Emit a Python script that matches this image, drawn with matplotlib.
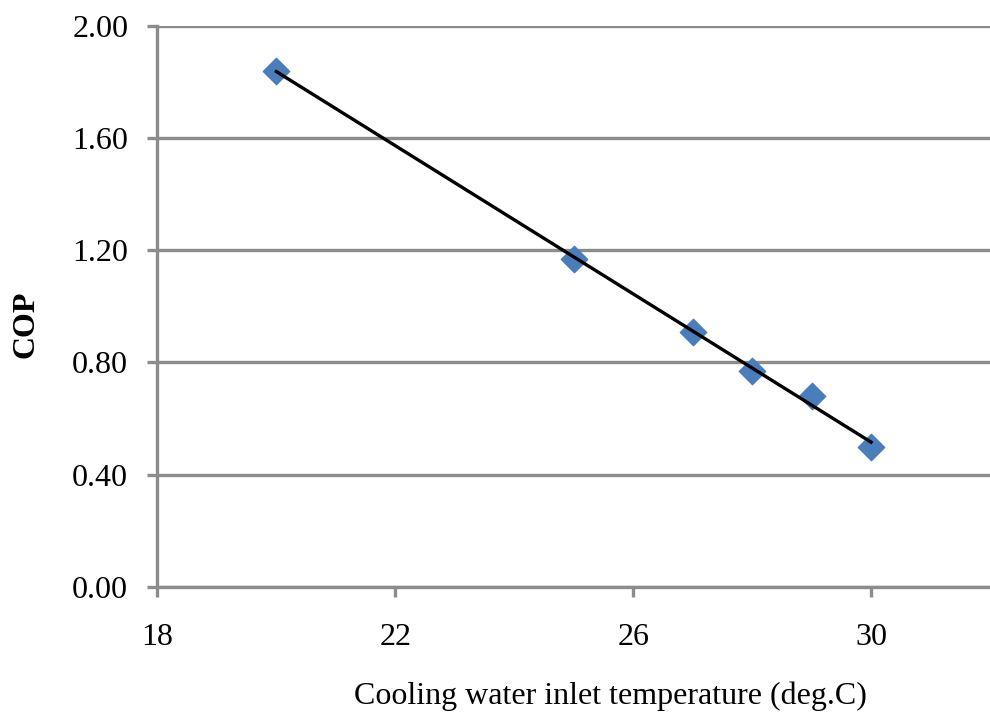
import numpy as np
import matplotlib
matplotlib.use("Agg")
import matplotlib.pyplot as plt

# cooling water inlet temperature (deg.C) vs COP
temp = [20, 25, 27, 28, 29, 30]
cop = [1.84, 1.17, 0.91, 0.77, 0.68, 0.50]
xticks = [18, 22, 26, 30]
yticks = [0.0, 0.4, 0.8, 1.2, 1.6, 2.0]

plt.rcParams["font.family"] = ["Liberation Serif", "DejaVu Serif"]

fig = plt.figure(figsize=(9.9, 7.2), dpi=100)
ax = fig.add_axes([0.159, 0.185, 0.841, 0.779])

# linear trendline
k, b = np.polyfit(temp, cop, 1)
xs = np.array([min(temp), max(temp)])
ax.plot(xs, k * xs + b, color="black", lw=2.4, zorder=3)
ax.scatter(temp, cop, marker="D", s=180, color="#4a7ebb", edgecolor="#4a7ebb", zorder=2)

ax.set_xlim(18, 32)
ax.set_ylim(0, 2.0)
ax.set_xticks(xticks)
ax.set_yticks(yticks)
ax.set_yticklabels(["%.2f" % v for v in yticks])
ax.grid(axis="y", color="#8c8c8c", lw=2.4)
ax.set_axisbelow(True)

for s in ["top", "right"]:
    ax.spines[s].set_visible(False)
for s in ["left", "bottom"]:
    ax.spines[s].set_color("#8c8c8c")
    ax.spines[s].set_linewidth(2.4)
ax.tick_params(axis="both", color="#8c8c8c", width=2.4, length=7, labelsize=23)
ax.tick_params(axis="x", pad=19)
ax.tick_params(axis="y", pad=14)

ax.set_xlabel("Cooling water inlet temperature (deg.C)", fontsize=23)
ax.set_ylabel("COP", fontsize=23, fontweight="bold")
ax.xaxis.set_label_coords(0.544, -0.168)
ax.yaxis.set_label_coords(-0.140, 0.468)

fig.savefig("out.png", dpi=100)
